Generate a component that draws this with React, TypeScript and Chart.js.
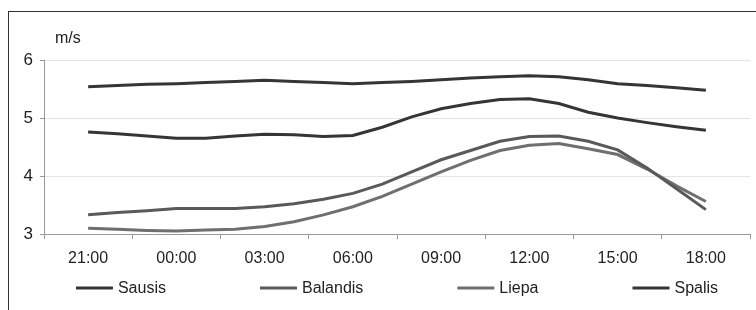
import React, { useEffect, useRef } from "react";
import { Chart, registerables } from "chart.js";

Chart.register(...registerables);

const tickLabels = ["21:00", "00:00", "03:00", "06:00", "09:00", "12:00", "15:00", "18:00"];
const hourLabels = [
  "21:00", "22:00", "23:00", "00:00", "01:00", "02:00", "03:00", "04:00", "05:00", "06:00", "07:00",
  "08:00", "09:00", "10:00", "11:00", "12:00", "13:00", "14:00", "15:00", "16:00", "17:00", "18:00",
];

const sausis = [5.54, 5.56, 5.58, 5.59, 5.61, 5.63, 5.65, 5.63, 5.61, 5.59, 5.61, 5.63, 5.66, 5.69, 5.71, 5.73, 5.71, 5.66, 5.59, 5.56, 5.52, 5.48];
const balandis = [3.33, 3.37, 3.4, 3.44, 3.44, 3.44, 3.47, 3.52, 3.6, 3.7, 3.86, 4.07, 4.28, 4.44, 4.6, 4.68, 4.69, 4.6, 4.45, 4.14, 3.78, 3.42];
const liepa = [3.1, 3.08, 3.06, 3.05, 3.07, 3.08, 3.13, 3.21, 3.33, 3.47, 3.65, 3.86, 4.07, 4.27, 4.44, 4.53, 4.56, 4.47, 4.37, 4.12, 3.83, 3.56];
const spalis = [4.76, 4.73, 4.69, 4.65, 4.65, 4.69, 4.72, 4.71, 4.68, 4.7, 4.84, 5.02, 5.16, 5.25, 5.32, 5.33, 5.25, 5.1, 5.0, 4.92, 4.85, 4.79];

const seriesNames = ["Sausis", "Balandis", "Liepa", "Spalis"];
const seriesValues = [sausis, balandis, liepa, spalis];
const seriesColors = ["#353535", "#595959", "#6f6f6f", "#353535"];

const yTicks = [3, 4, 5, 6];
const unitLabel = "m/s";

const FONT = '"Liberation Sans", Arial, sans-serif';
const FONT_SIZE = 16;
const TEXT_COLOR = "#222";

const unitPlugin = {
  id: "unitLabel",
  afterDraw(chart: any) {
    const { ctx, chartArea } = chart;
    ctx.save();
    ctx.font = `${FONT_SIZE}px ${FONT}`;
    ctx.fillStyle = TEXT_COLOR;
    ctx.textAlign = "left";
    ctx.textBaseline = "middle";
    ctx.fillText(unitLabel, chartArea.left + 11, chartArea.top - 21);
    ctx.restore();
  },
};

const legendPlugin = {
  id: "spreadLegend",
  afterDraw(chart: any) {
    const { ctx, chartArea } = chart;
    const lineLen = 37;
    const textGap = 5;
    const itemGap = 94;
    ctx.save();
    ctx.font = `${FONT_SIZE}px ${FONT}`;
    const items = chart.data.datasets.map((ds: any) => {
      const w = ctx.measureText(ds.label).width;
      return { ds, w: lineLen + textGap + w };
    });
    const total = items.reduce((a: number, it: any) => a + it.w, 0) + itemGap * (items.length - 1);
    let x = (chartArea.left + chartArea.right) / 2 - total / 2;
    const y = chartArea.bottom + 54;
    items.forEach((it: any) => {
      ctx.strokeStyle = it.ds.borderColor;
      ctx.lineWidth = it.ds.borderWidth;
      ctx.beginPath();
      ctx.moveTo(x, y);
      ctx.lineTo(x + lineLen, y);
      ctx.stroke();
      ctx.fillStyle = TEXT_COLOR;
      ctx.textAlign = "left";
      ctx.textBaseline = "middle";
      ctx.fillText(it.ds.label, x + lineLen + textGap, y + 1);
      x += it.w + itemGap;
    });
    ctx.restore();
  },
};

export default function App() {
  const canvasRef = useRef<HTMLCanvasElement | null>(null);

  useEffect(() => {
    if (!canvasRef.current) return;
    const datasets = seriesNames.map((name, si) => ({
      label: name,
      data: seriesValues[si].map((v, i) => ({ x: i, y: v })),
      borderColor: seriesColors[si],
      backgroundColor: seriesColors[si],
      borderWidth: 3,
      pointRadius: 0,
      tension: 0,
      fill: false,
      xAxisID: "x2",
      yAxisID: "y",
    }));

    const chart = new Chart(canvasRef.current, {
      type: "line",
      data: { labels: tickLabels, datasets },
      options: {
        animation: false,
        responsive: false,
        devicePixelRatio: 1,
        layout: { padding: { top: 48, right: 6, bottom: 40, left: 0 } },
        plugins: { legend: { display: false }, tooltip: { enabled: false } },
        scales: {
          x: {
            type: "category",
            labels: tickLabels,
            offset: true,
            grid: { offset: true, drawOnChartArea: false, drawTicks: true, tickLength: 5, tickColor: "#9a9a9a" },
            border: { display: true, color: "#9a9a9a", width: 1 },
            ticks: { color: TEXT_COLOR, font: { family: FONT, size: FONT_SIZE }, padding: 10, maxRotation: 0, autoSkip: false },
            afterFit: (s: any) => { s.height = 36; },
          },
          x2: {
            type: "linear",
            display: false,
            min: -1.5,
            max: hourLabels.length + 0.5,
          },
          y: {
            min: yTicks[0],
            max: yTicks[yTicks.length - 1],
            afterBuildTicks: (s: any) => { s.ticks = yTicks.map((v) => ({ value: v })); },
            ticks: { color: TEXT_COLOR, font: { family: FONT, size: 17 }, padding: 7 },
            grid: { color: "#e4e4e4", tickColor: "#9a9a9a", tickLength: 4 },
            border: { display: true, color: "#9a9a9a", width: 1 },
            afterFit: (s: any) => { s.width = 35; },
          },
        },
      } as any,
      plugins: [unitPlugin, legendPlugin],
    });
    return () => chart.destroy();
  }, []);

  return (
    <div
      style={{
        position: "absolute",
        left: 8,
        top: 11,
        width: 748,
        height: 299,
        borderTop: "1px solid #333",
        borderLeft: "1px solid #333",
        background: "#fff",
        overflow: "hidden",
      }}
    >
      <canvas ref={canvasRef} width={747} height={298} style={{ display: "block" }} />
    </div>
  );
}
